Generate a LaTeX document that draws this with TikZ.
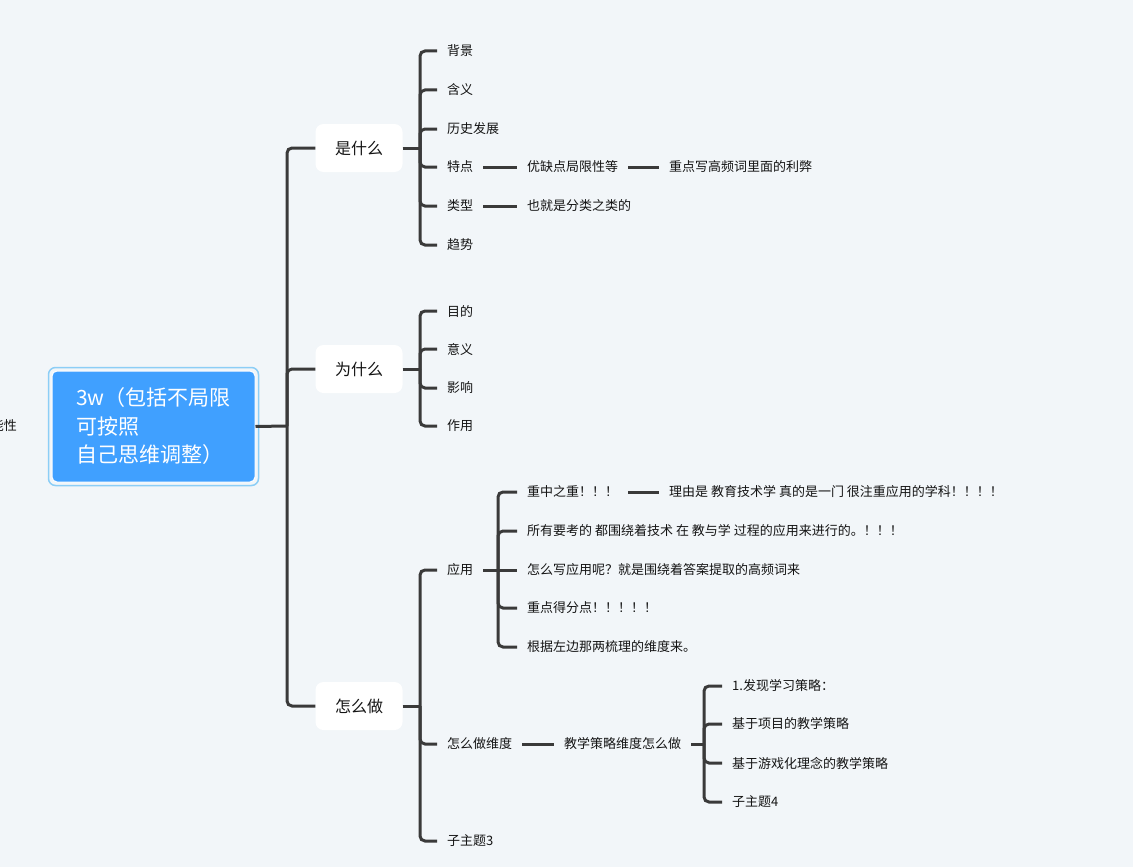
\documentclass[tikz,border=0pt]{standalone}
\usepackage{fontspec}
\setmainfont{Noto Sans CJK SC}
\usepackage{tikz}
\usepackage{xcolor}

\begin{document}
\begin{tikzpicture}[x=1pt, y=-1pt, every node/.style={font=\fontsize{13}{15}\selectfont}]
	% Define colors
	\definecolor{canvas_bg}{RGB}{242, 246, 249}
	\definecolor{root_blue}{RGB}{64, 160, 255}
	\definecolor{root_ring}{RGB}{140, 206, 246}
	\definecolor{branch_line}{RGB}{58, 58, 58}
	\definecolor{leaf_text}{RGB}{20, 20, 20}

	% Styles
	\tikzstyle{root_box} = [fill=root_blue, draw=white, line width=1pt, rounded corners=5pt, text=white, font=\fontsize{21}{28.5}\selectfont, minimum width=203pt, minimum height=111pt, align=left]
	\tikzstyle{topic_box} = [fill=white, rounded corners=8pt, text=leaf_text, font=\fontsize{16}{19}\selectfont, minimum width=87pt, minimum height=48pt]
	\tikzstyle{leaf} = [anchor=west, text=leaf_text, inner xsep=10pt, inner ysep=2pt]
	\tikzstyle{link} = [draw=branch_line, line width=3pt, rounded corners=5pt]

	% Column X positions
	\def\coltopic{359}
	\def\colone{437}
	\def\coltwo{517}
	\def\colthree{659}
	\def\colfour{722}

	% Canvas
	\path[use as bounding box, fill=canvas_bg] (0,0) rectangle (1133,867);
	\clip (0,0) rectangle (1133,867);

	% Root topic
	\node[root_box] (root) at (153.5,426.5) {3w（包括不局限\\可按照\\自己思维调整）};
	\draw[root_ring, line width=1.5pt, rounded corners=7pt] ([xshift=-3pt,yshift=-3pt]root.south west) rectangle ([xshift=3pt,yshift=3pt]root.north east);
	\node[leaf, anchor=east, inner xsep=0pt] (cut) at (17,426) {能性};

	% Main topics
	\node[topic_box] (what) at (\coltopic,148) {是什么};
	\node[topic_box] (why) at (\coltopic,369) {为什么};
	\node[topic_box] (how) at (\coltopic,706) {怎么做};

	\coordinate (trunk) at (287,426);
	\draw[link] (root.east) -- (trunk);
	\foreach \t in {what,why,how}
		\draw[link] (trunk) |- (\t.west);

	% What
	\node[leaf] (bg) at (\colone,51) {背景};
	\node[leaf] (meaning) at (\colone,90) {含义};
	\node[leaf] (history) at (\colone,129) {历史发展};
	\node[leaf] (feature) at (\colone,167) {特点};
	\node[leaf] (kind) at (\colone,206) {类型};
	\node[leaf] (trend) at (\colone,245) {趋势};
	\node[leaf] (pros) at (\coltwo,167) {优缺点局限性等};
	\node[leaf] (focus) at (\colthree,167) {重点写高频词里面的利弊};
	\node[leaf] (classify) at (\coltwo,206) {也就是分类之类的};

	\coordinate (what_fork) at (420,148);
	\draw[link] (what.east) -- (what_fork);
	\foreach \c in {bg,meaning,history,feature,kind,trend}
		\draw[link] (what_fork) |- (\c.west);
	\draw[link] (feature) -- (pros);
	\draw[link] (pros) -- (focus);
	\draw[link] (kind) -- (classify);

	% Why
	\node[leaf] (goal) at (\colone,311) {目的};
	\node[leaf] (sense) at (\colone,349) {意义};
	\node[leaf] (effect) at (\colone,388) {影响};
	\node[leaf] (role) at (\colone,426) {作用};

	\coordinate (why_fork) at (420,369);
	\draw[link] (why.east) -- (why_fork);
	\foreach \c in {goal,sense,effect,role}
		\draw[link] (why_fork) |- (\c.west);

	% How
	\node[leaf] (apply) at (\colone,570) {应用};
	\node[leaf] (dims) at (\colone,744) {怎么做维度};
	\node[leaf] (sub_three) at (\colone,841) {子主题3};

	\coordinate (how_fork) at (420,706);
	\draw[link] (how.east) -- (how_fork);
	\foreach \c in {apply,dims,sub_three}
		\draw[link] (how_fork) |- (\c.west);

	% Apply
	\node[leaf] (key) at (\coltwo,492) {重中之重！！！};
	\node[leaf] (reason) at (\colthree,492) {理由是 教育技术学 真的是一门 很注重应用的学科！！！！};
	\node[leaf] (all) at (\coltwo,531) {所有要考的 都围绕着技术 在 教与学 过程的应用来进行的。！！！};
	\node[leaf] (write) at (\coltwo,570) {怎么写应用呢？就是围绕着答案提取的高频词来};
	\node[leaf] (score) at (\coltwo,608) {重点得分点！！！！！};
	\node[leaf] (base) at (\coltwo,647) {根据左边那两梳理的维度来。};

	\coordinate (apply_fork) at (498,570);
	\draw[link] (apply.east) -- (write.west);
	\foreach \c in {key,all,score,base}
		\draw[link] (apply_fork) |- (\c.west);
	\draw[link] (key) -- (reason);

	% Dimensions
	\node[leaf] (strategy) at (554,744) {教学策略维度怎么做};
	\node[leaf] (s_one) at (\colfour,686) {1.发现学习策略：};
	\node[leaf] (s_two) at (\colfour,724) {基于项目的教学策略};
	\node[leaf] (s_three) at (\colfour,763) {基于游戏化理念的教学策略};
	\node[leaf] (s_four) at (\colfour,802) {子主题4};

	\draw[link] (dims) -- (strategy);
	\coordinate (dims_fork) at (704,744);
	\draw[link] (strategy.east) -- (dims_fork);
	\foreach \c in {s_one,s_two,s_three,s_four}
		\draw[link] (dims_fork) |- (\c.west);

\end{tikzpicture}
\end{document}
